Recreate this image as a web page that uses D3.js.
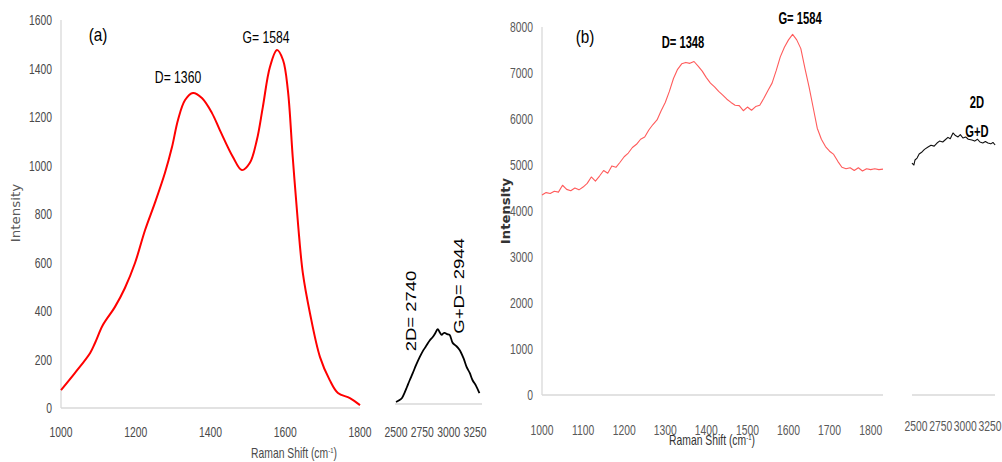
<!DOCTYPE html>
<html><head><meta charset="utf-8">
<script src="https://cdn.jsdelivr.net/npm/d3@7"></script>
<style>body{margin:0;background:#fff}svg{display:block}</style>
</head><body><svg id="c" width="1002" height="462"></svg>
<script>
// Panel (a) main spectrum
const aShift = [1000,1037,1078,1091,1112,1144,1171,1198,1225,1251,1278,1297,1313,1332,1353,1377,1404,1425,1460,1484,1505,1524,1540,1559,1578,1594,1607,1620,1634,1647,1666,1693,1719,1741,1773,1800];
const aInt   = [74,144,227,268,342,416,495,598,734,845,969,1076,1188,1270,1299,1278,1216,1146,1035,981,1010,1105,1241,1406,1476,1435,1311,1035,763,557,392,210,115,62,41,12];
// Panel (a) 2D region
const a2Shift = [2500,2530,2557,2580,2604,2630,2660,2690,2726,2760,2792,2820,2849,2870,2896,2915,2934,2950,2962,2985,3009,3038,3070,3104,3140,3170,3200,3226,3260,3292];
const a2Int   = [8,15,25,45,70,98,128,160,194,222,243,262,276,290,309,296,285,292,293,288,285,252,240,223,190,153,128,99,75,45];
// Panel (b) main spectrum
const bShift = [1000,1010,1020,1030,1040,1050,1060,1070,1080,1090,1100,1110,1120,1130,1140,1150,1160,1170,1180,1190,1200,1210,1220,1230,1240,1250,1260,1270,1280,1290,1300,1310,1320,1330,1340,1350,1360,1370,1380,1390,1400,1410,1420,1430,1440,1450,1460,1470,1480,1490,1500,1510,1520,1530,1540,1550,1560,1570,1580,1590,1600,1610,1620,1630,1640,1650,1660,1670,1680,1690,1700,1710,1720,1730,1740,1750,1760,1770,1780,1790,1800,1810,1820,1830];
const bInt   = [4350,4400,4380,4430,4410,4560,4470,4440,4500,4460,4520,4600,4740,4650,4760,4880,4820,4980,4950,5060,5180,5260,5380,5450,5560,5610,5760,5880,5980,6180,6360,6600,6880,7080,7200,7230,7210,7250,7150,7040,6900,6780,6700,6600,6520,6430,6360,6300,6290,6180,6260,6190,6270,6300,6450,6620,6780,7050,7350,7560,7720,7840,7720,7530,7100,6700,6250,5800,5560,5400,5300,5230,5080,4950,4920,4940,4880,4940,4870,4920,4900,4920,4900,4910];
// Panel (b) 2D region
const b2Shift = [2459,2479,2490,2511,2532,2561,2586,2622,2652,2684,2713,2738,2771,2794,2824,2847,2875,2900,2926,2949,2976,3003,3030,3067,3095,3122,3148,3177,3203,3229,3258,3280,3302];
const b2Int   = [5043,5000,5109,5150,5240,5283,5340,5391,5430,5410,5478,5520,5500,5543,5600,5570,5696,5640,5609,5660,5587,5610,5560,5543,5520,5560,5500,5480,5510,5478,5460,5490,5435];
// Ticks
const aYTicks = [0,200,400,600,800,1000,1200,1400,1600];
const aXTicks = [1000,1200,1400,1600,1800];
const bYTicks = [0,1000,2000,3000,4000,5000,6000,7000,8000];
const bXTicks = [1000,1100,1200,1300,1400,1500,1600,1700,1800];
const hiTicks = [2500,2750,3000,3250];

const svg = d3.select("#c");
svg.append("rect").attr("width",1002).attr("height",462).attr("fill","#fff");
const sans = "'Liberation Sans',Arial,sans-serif";
const axisCol = "#d9d9d9", tickCol = "#595959";

function axisLine(x1,y1,x2,y2){
  svg.append("line").attr("x1",x1).attr("y1",y1).attr("x2",x2).attr("y2",y2)
     .attr("stroke",axisCol).attr("stroke-width",1.3);
}
// text drawn condensed (the reference is squeezed horizontally)
function label(t,x,y,opt={}){
  const sx = opt.sx||0.76, rot = opt.rot||0;
  const e = svg.append("text").attr("x",0).attr("y",0).attr("text-anchor",opt.anchor||"middle")
    .attr("font-family",opt.font||sans)
    .attr("font-size",opt.size||15).attr("fill",opt.fill||"#000")
    .attr("font-weight",opt.weight||"normal")
    .attr("transform",`translate(${x},${y}) rotate(${rot}) scale(${sx},1)`).text(t);
  return e;
}
function yLabels(scale, ticks, xRight, fill){
  ticks.forEach(d=>label(String(d), xRight, scale(d)+5, {anchor:"end",size:14,fill:fill||tickCol,sx:0.74}));
}
function xLabels(scale, ticks, y, fill){
  ticks.forEach(d=>label(String(d), scale(d), y, {size:14,fill:fill||tickCol,sx:0.74}));
}
function curve(xs, ys, sx, sy, color, w, cv){
  const pts = xs.map((x,i)=>[x,ys[i]]);
  svg.append("path").datum(pts)
    .attr("d", d3.line().x(d=>sx(d[0])).y(d=>sy(d[1])).curve(cv))
    .attr("fill","none").attr("stroke",color).attr("stroke-width",w).attr("stroke-linejoin","round");
}
function axisTitle(x,y,fill,weight){
  const t = label("Raman Shift (cm",x,y,{size:14,fill:fill,weight:weight,sx:0.74});
  t.append("tspan").attr("font-size",8).attr("dy",-5).text("-1");
  t.append("tspan").attr("dy",5).text(")");
}

// ---------- Panel (a)
const ax = d3.scaleLinear().domain([1000,1800]).range([61,360]);
const ay = d3.scaleLinear().domain([0,1600]).range([408,20]);
axisLine(61,20,61,408); axisLine(61,408,360,408);
yLabels(ay, aYTicks, 52, "#4a4a4a");
xLabels(ax, aXTicks, 437, "#4a4a4a");
curve(aShift,aInt,ax,ay,"#ff0000",2,d3.curveCatmullRom);

const a2x = d3.scaleLinear().domain([2500,3250]).range([396,475]);
const a2y = d3.scaleLinear().domain([0,1600]).range([404,16]);
axisLine(395,404,482,404);
xLabels(a2x, hiTicks, 437, "#4a4a4a");
curve(a2Shift,a2Int,a2x,a2y,"#000",1.8,d3.curveCatmullRom);

label("(a)",98,41,{size:18,sx:0.85});
label("D= 1360",178,83,{size:16});
label("G= 1584",266,43,{size:16});
label("2D= 2740",416,311,{size:14,rot:-90,sx:1.32});
label("G+D= 2944",464,286,{size:14,rot:-90,sx:1.32});
label("Intensity",20,213,{size:12,rot:-90,fill:tickCol,font:"'DejaVu Sans',Verdana,sans-serif",sx:1.12});
axisTitle(294,458,"#4a4a4a");

// ---------- Panel (b)
const bx = d3.scaleLinear().domain([1000,1830]).range([542,883]);
const by = d3.scaleLinear().domain([0,8000]).range([395,27]);
axisLine(542,27,542,395); axisLine(542,395,883,395);
yLabels(by, bYTicks, 533);
xLabels(bx, bXTicks, 435);
curve(bShift,bInt,bx,by,"#ff5b5b",1.1,d3.curveLinear);

const b2x = d3.scaleLinear().domain([2500,3250]).range([916,990]);
axisLine(912,395,995,395);
xLabels(b2x, hiTicks, 431);
curve(b2Shift,b2Int,b2x,by,"#111",1.1,d3.curveLinear);

label("(b)",585,43,{size:18,sx:0.85});
label("D= 1348",683,48,{size:16,weight:"bold",sx:0.7});
label("G= 1584",800,24,{size:16,weight:"bold",sx:0.7});
label("2D",977,108,{size:16,weight:"bold",sx:0.7});
label("G+D",977,137,{size:16,weight:"bold",sx:0.7});
label("Intensity",510,211,{size:12,rot:-90,fill:"#333",weight:"bold",font:"'DejaVu Sans',Verdana,sans-serif",sx:1.1});
axisTitle(712,445,"#333");
</script></body></html>
